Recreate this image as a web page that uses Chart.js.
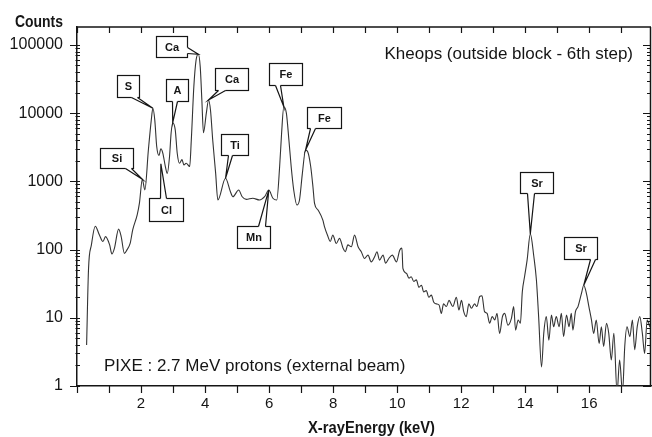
<!DOCTYPE html>
<html>
<head>
<meta charset="utf-8">
<script src="https://cdn.jsdelivr.net/npm/chart.js@4/dist/chart.umd.min.js"></script>
<style>
  html, body { margin: 0; padding: 0; background: #fff; }
  #wrap { width: 652px; height: 437px; }
</style>
</head>
<body>
<div id="wrap"><canvas id="c" width="652" height="437"></canvas></div>
<script>
// PIXE spectrum: X-ray energy (keV) and counts per channel
const energy = [
  0.30, 0.36, 0.45, 0.57, 0.70, 0.81, 0.89, 1.02, 1.09, 1.17, 1.30, 1.38, 1.48, 1.56, 1.66, 1.74, 1.88, 1.95,
  2.04, 2.12, 2.23, 2.32, 2.37, 2.43, 2.49, 2.56, 2.62, 2.68, 2.76, 2.82, 2.89, 2.94, 2.99, 3.07, 3.13, 3.20,
  3.28, 3.34, 3.41, 3.52, 3.57, 3.65, 3.72, 3.79, 3.85, 3.90, 3.95, 4.04, 4.11, 4.17, 4.24, 4.33, 4.40, 4.64,
  4.79, 4.87, 5.05, 5.16, 5.29, 5.49, 5.70, 5.86, 5.99, 6.12, 6.24, 6.33, 6.39, 6.46, 6.54, 6.62, 6.69, 6.77,
  6.87, 6.95, 7.04, 7.14, 7.21, 7.30, 7.37, 7.42, 7.53, 7.68, 7.73, 7.84, 7.91, 7.99, 8.10, 8.20, 8.31, 8.38,
  8.46, 8.57, 8.67, 8.78, 8.88, 8.98, 9.09, 9.19, 9.30, 9.37, 9.45, 9.56, 9.64, 9.74, 9.85, 9.98, 10.08, 10.15,
  10.18, 10.29, 10.37, 10.44, 10.52, 10.60, 10.68, 10.76, 10.83, 10.91, 10.99, 11.07, 11.14, 11.22, 11.31, 11.38,
  11.45, 11.54, 11.62, 11.74, 11.85, 11.93, 12.01, 12.08, 12.16, 12.24, 12.32, 12.42, 12.49, 12.58, 12.65, 12.73,
  12.81, 12.89, 12.97, 13.05, 13.12, 13.20, 13.29, 13.36, 13.46, 13.57, 13.64, 13.70, 13.78, 13.85, 13.91, 13.98,
  14.06, 14.16, 14.27, 14.35, 14.42, 14.51, 14.58, 14.66, 14.74, 14.82, 14.89, 14.97, 15.06, 15.13, 15.20, 15.29,
  15.37, 15.44, 15.49, 15.57, 15.65, 15.76, 15.83, 15.91, 15.99, 16.07, 16.14, 16.22, 16.31, 16.38, 16.45, 16.54,
  16.61, 16.69, 16.77, 16.87, 16.95, 17.04, 17.11, 17.18, 17.27, 17.35, 17.42, 17.50, 17.58, 17.66, 17.73, 17.81,
  17.89
];
const counts = [
  4, 52, 117, 220, 163, 131, 155, 117, 86, 105, 199, 155, 88, 99, 123, 194, 322, 480,
  1070, 750, 2900, 7900, 11800, 7900, 3240, 2400, 3000, 2600, 1650, 1310, 2300, 5100, 7240, 5640, 2600, 1840,
  2080, 1740, 1840, 1650, 4000, 24500, 60000, 73000, 47500, 15600, 5150, 10000, 15600, 11000, 4000, 1330, 533, 1110,
  710, 595, 745, 595, 545, 565, 533, 595, 745, 565, 533, 1650, 5000, 12400, 10000, 4000, 1650, 745,
  450, 533, 1310, 2870, 2700, 1650, 835, 475, 380, 270, 217, 155, 131, 163, 123, 146, 105, 93,
  117, 110, 163, 110, 93, 74, 83, 66, 79, 93, 70, 83, 63, 74, 83, 66, 98, 105,
  53, 45, 38, 40, 34, 36, 28, 30, 24, 25, 20, 21.5, 17, 16, 15.4, 11.6,
  16, 14.6, 18, 14.6, 20, 13, 18, 12.3, 10.4, 16, 13.8, 16, 14.6, 20.5, 21, 12.3,
  11.6, 8.3, 10.4, 9.3, 11.6, 5.9, 10.4, 11.6, 7.8, 9.8, 14.6, 6.6, 9.3, 8.3, 24, 40,
  70, 170, 79, 36, 10.4, 1.9, 5.9, 10.4, 4.7, 11, 7.4, 10.4, 7.4, 11.6, 5.3, 11,
  7.4, 11.6, 6.6, 12.3, 14.6, 23, 30, 23, 14.6, 9.3, 5.9, 9.3, 4.2, 7.4, 3.8, 8.3,
  5.9, 2.4, 5.9, 0.8, 2.4, 0.8, 3.8, 7.4, 5.3, 9.3, 3.4, 7.4, 10.4, 5.9, 3, 9.3,
  7.4
];

// Axis tick labels
const xTickValues = [2, 4, 6, 8, 10, 12, 14, 16];
const yTickValues = [1, 10, 100, 1000, 10000, 100000];

// Identified element peaks
const peakNames = ['Si', 'S', 'A', 'Ca', 'Ca', 'Ti', 'Mn', 'Fe', 'Fe', 'Cl', 'Sr', 'Sr'];
const peakEnergies = [2.04, 2.37, 2.99, 3.79, 4.11, 4.64, 5.99, 6.46, 7.14, 2.62, 14.16, 15.83];

const INK = '#151515';

// Frame, tick marks, titles and notes drawn around the plot area
const framePlugin = {
  id: 'frame',
  afterDraw(chart, args, opts) {
    const { ctx, chartArea: a, scales: { x, y } } = chart;
    ctx.save();
    ctx.strokeStyle = INK;
    ctx.lineWidth = 1.5;
    ctx.beginPath();
    ctx.moveTo(a.left, a.top); ctx.lineTo(a.right, a.top);
    ctx.moveTo(a.right - 0.5, a.top); ctx.lineTo(a.right - 0.5, a.bottom);
    ctx.stroke();

    ctx.lineWidth = 1.2;
    ctx.beginPath();
    // one tick per keV: outward at the bottom, inward at the top
    for (let k = 0; k <= Math.floor(x.max); k++) {
      const px = Math.round(x.getPixelForValue(k)) + 0.5;
      ctx.moveTo(px, a.bottom); ctx.lineTo(px, a.bottom + 7);
      ctx.moveTo(px, a.top); ctx.lineTo(px, a.top + 6);
    }
    // decades and their minor subdivisions on both sides
    for (let d = 1; d <= 100000; d *= 10) {
      for (let m = 1; m <= 9; m++) {
        const v = d * m;
        if (v > y.max) break;
        const py = Math.round(y.getPixelForValue(v)) + 0.5;
        if (m === 1) {
          ctx.moveTo(a.left - 7, py); ctx.lineTo(a.left + 3, py);
          ctx.moveTo(a.right, py); ctx.lineTo(a.right - 8, py);
        } else {
          ctx.moveTo(a.left - 1.5, py); ctx.lineTo(a.left + 3, py);
          ctx.moveTo(a.right, py); ctx.lineTo(a.right - 4, py);
        }
      }
    }
    ctx.stroke();

    // condensed bold axis titles
    const condensed = (text, cx, cy, width, align) => {
      ctx.font = 'bold 16px "Liberation Sans", Arial, sans-serif';
      const w = ctx.measureText(text).width;
      const s = width / w;
      ctx.save();
      ctx.translate(align === 'center' ? cx - width / 2 : cx, cy);
      ctx.scale(s, 1);
      ctx.textAlign = 'left';
      ctx.textBaseline = 'alphabetic';
      ctx.fillStyle = INK;
      ctx.fillText(text, 0, 0);
      ctx.restore();
    };
    condensed('Counts', 15, 27, 48, 'left');
    condensed('X-rayEnergy (keV)', 371.5, 433, 127, 'center');

    ctx.fillStyle = INK;
    ctx.font = '17px "Liberation Sans", Arial, sans-serif';
    ctx.textBaseline = 'alphabetic';
    ctx.textAlign = 'right';
    ctx.fillText('Kheops (outside block - 6th step)', 633, 59);
    ctx.textAlign = 'left';
    ctx.fillText('PIXE : 2.7 MeV protons (external beam)', 104, 371);
    ctx.restore();
  }
};

// Speech-bubble labels pointing at the element peaks
const calloutPlugin = {
  id: 'peakCallouts',
  afterDatasetsDraw(chart, args, opts) {
    const { ctx, scales: { x, y } } = chart;
    ctx.save();
    opts.boxes.forEach((b, i) => {
      const idx = energy.indexOf(peakEnergies[i]);
      const tx = x.getPixelForValue(energy[idx]);
      const ty = y.getPixelForValue(counts[idx]) + (b.tipDy || 0);
      const bx = Math.round(tx + b.dx) + 0.5;
      const by = Math.round(ty + b.dy) + 0.5;
      let p1, p2, q1, q2;
      if (b.edge === 'bottom') {
        p1 = [bx + b.a, by + b.h]; p2 = [bx + b.b, by + b.h];
        q1 = [p1[0], p1[1] - 1.5]; q2 = [p2[0], p2[1] - 1.5];
      } else if (b.edge === 'top') {
        p1 = [bx + b.a, by]; p2 = [bx + b.b, by];
        q1 = [p1[0], p1[1] + 1.5]; q2 = [p2[0], p2[1] + 1.5];
      } else {
        p1 = [bx + b.w, by + b.a]; p2 = [bx + b.w, by + b.b];
        q1 = [p1[0] - 1.5, p1[1]]; q2 = [p2[0] - 1.5, p2[1]];
      }
      ctx.lineWidth = 1.2;
      ctx.strokeStyle = INK;
      ctx.fillStyle = '#fff';
      ctx.fillRect(bx, by, b.w, b.h);
      ctx.strokeRect(bx, by, b.w, b.h);
      // tail
      ctx.beginPath();
      ctx.moveTo(q1[0], q1[1]); ctx.lineTo(p1[0], p1[1]); ctx.lineTo(tx, ty);
      ctx.lineTo(p2[0], p2[1]); ctx.lineTo(q2[0], q2[1]); ctx.closePath();
      ctx.fill();
      ctx.beginPath();
      ctx.moveTo(p1[0], p1[1]); ctx.lineTo(tx, ty); ctx.lineTo(p2[0], p2[1]);
      ctx.stroke();
      // label
      ctx.fillStyle = INK;
      ctx.font = 'bold 11px "Liberation Sans", Arial, sans-serif';
      ctx.textAlign = 'center';
      ctx.textBaseline = 'middle';
      ctx.fillText(peakNames[i], bx + b.w / 2, by + b.h / 2 + 0.5);
    });
    ctx.restore();
  }
};

new Chart(document.getElementById('c'), {
  type: 'line',
  data: {
    datasets: [{
      data: energy.map((e, i) => ({ x: e, y: counts[i] })),
      borderColor: '#333333',
      borderWidth: 1.1,
      pointRadius: 0,
      cubicInterpolationMode: 'monotone',
      fill: false
    }]
  },
  options: {
    responsive: false,
    animation: false,
    devicePixelRatio: 1,
    layout: { padding: { top: 27, right: 1, left: 0, bottom: 0 } },
    plugins: {
      legend: { display: false },
      tooltip: { enabled: false },
      peakCallouts: {
        boxes: [
          { dx: -42, dy: -31, w: 33, h: 20, edge: 'bottom', a: 25, b: 31 },
          { dx: -36, dy: -33, w: 22, h: 22, edge: 'bottom', a: 14, b: 20 },
          { dx: -7, dy: -44, w: 22, h: 22, edge: 'bottom', a: 6, b: 11 },
          { dx: -42, dy: -18, w: 31, h: 21, edge: 'right', a: 11, b: 17 },
          { dx: 6.5, dy: -32, w: 33, h: 22, edge: 'bottom', a: 3, b: 10 },
          { dx: -4.5, dy: -44, w: 27, h: 21, edge: 'bottom', a: 7, b: 11 },
          { dx: -32, dy: 36, w: 33, h: 22, edge: 'top', a: 21, b: 28 },
          { dx: -15, dy: -44, w: 33, h: 22, edge: 'bottom', a: 6, b: 11 },
          { dx: 1.5, dy: -43, w: 34, h: 21, edge: 'bottom', a: 3, b: 8 },
          { dx: -12, dy: 34, w: 34, h: 23, edge: 'top', a: 11, b: 17, tipDy: 15 },
          { dx: -10, dy: -62, w: 33, h: 21, edge: 'bottom', a: 7, b: 14 },
          { dx: -20, dy: -48, w: 33, h: 22, edge: 'bottom', a: 26, b: 31 }
        ]
      }
    },
    scales: {
      x: {
        type: 'linear',
        min: 0,
        max: 17.93,
        grid: { display: false, drawTicks: false },
        border: { display: true, color: INK, width: 1.5 },
        afterFit: s => { s.height = 51; },
        afterBuildTicks: s => { s.ticks = xTickValues.map(v => ({ value: v })); },
        ticks: {
          autoSkip: false,
          maxRotation: 0,
          padding: 9,
          color: INK,
          font: { family: '"Liberation Sans", Arial, sans-serif', size: 15 },
          callback: v => String(v)
        }
      },
      y: {
        type: 'logarithmic',
        min: 1,
        max: 183000,
        grid: { display: false, drawTicks: false },
        border: { display: true, color: INK, width: 1.5 },
        afterFit: s => { s.width = 77; },
        afterBuildTicks: s => { s.ticks = yTickValues.map(v => ({ value: v })); },
        ticks: {
          autoSkip: false,
          padding: 14,
          color: INK,
          font: { family: '"Liberation Sans", Arial, sans-serif', size: 16 },
          callback: v => String(v)
        }
      }
    }
  },
  plugins: [calloutPlugin, framePlugin]
});
</script>
</body>
</html>
